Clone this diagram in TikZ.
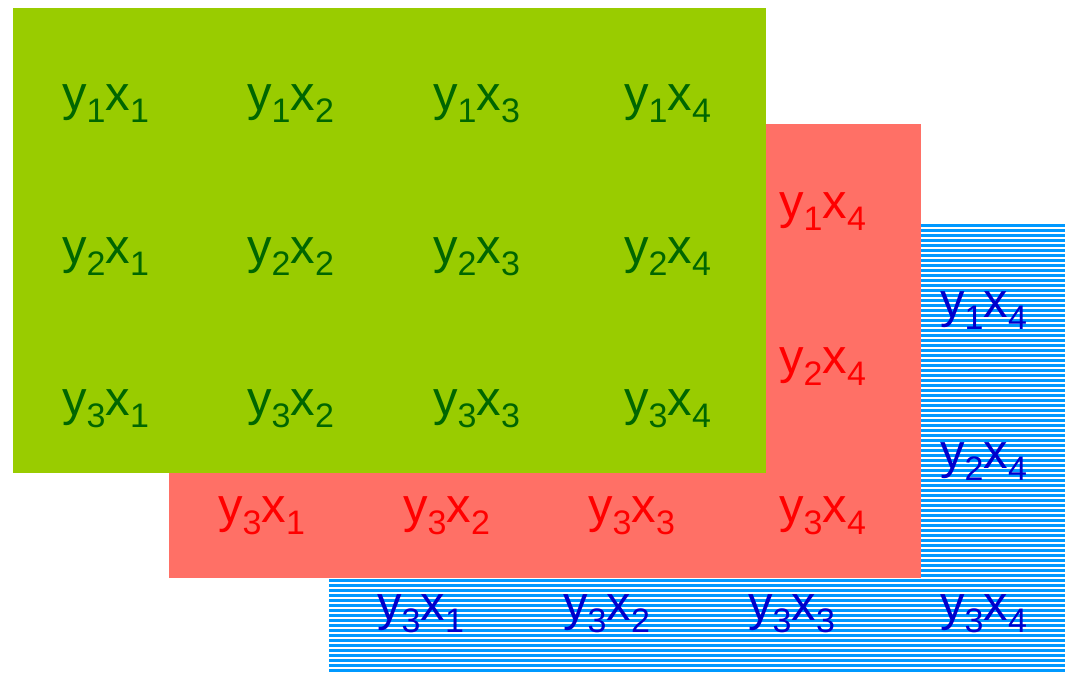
\documentclass[tikz,border=0pt]{standalone}
\usepackage{fontspec}
\setmainfont{Liberation Sans}
\usetikzlibrary{positioning}
\definecolor{leafgreen}{HTML}{99CC00}
\definecolor{darkleaf}{HTML}{006600}
\definecolor{salmon}{HTML}{FF7066}
\definecolor{skyblue}{HTML}{0099FF}
\definecolor{deepblue}{HTML}{0000CC}
\newcommand{\sub}[1]{\raisebox{-12pt}{\fontsize{34}{34}\selectfont #1}}
\newcommand{\yx}[2]{y\sub{#1}x\sub{#2}}
\tikzset{
  cell/.style={anchor=base west, inner sep=0pt, font=\fontsize{49}{49}\selectfont},
  greencell/.style={cell, text=darkleaf},
  redcell/.style={cell, text=red},
  bluecell/.style={cell, text=deepblue}
}

\begin{document}
\begin{tikzpicture}[x=1pt,y=-1pt]
  \useasboundingbox (0,0) rectangle (1065,672);

  % bottom layer (striped)
  \fill[skyblue] (329,224) rectangle (1065,672);
  \foreach \i in {0,...,88}
    \draw[white,line width=1.2pt] (329,228+5*\i) -- (1065,228+5*\i);
  \foreach \r/\b in {1/317,2/468}
    \node[bluecell] (b-\r-4) at (940,\b) {\yx{\r}{4}};
  \foreach \c/\a in {1/377,2/563,3/748,4/940}
    \node[bluecell] (b-3-\c) at (\a,620) {\yx{3}{\c}};

  % middle layer
  \fill[salmon] (169,124) rectangle (921,578);
  \foreach \r/\b in {1/218,2/373}
    \node[redcell] (r-\r-4) at (779,\b) {\yx{\r}{4}};
  \foreach \c/\a in {1/218,2/403,3/588,4/779}
    \node[redcell] (r-3-\c) at (\a,522) {\yx{3}{\c}};

  % top layer
  \fill[leafgreen] (13,8) rectangle (766,473);
  \foreach \r/\b in {1/110,2/263,3/415}
    \foreach \c/\a in {1/62,2/247,3/433,4/624}
      \node[greencell] (g-\r-\c) at (\a,\b) {\yx{\r}{\c}};

\end{tikzpicture}
\end{document}
